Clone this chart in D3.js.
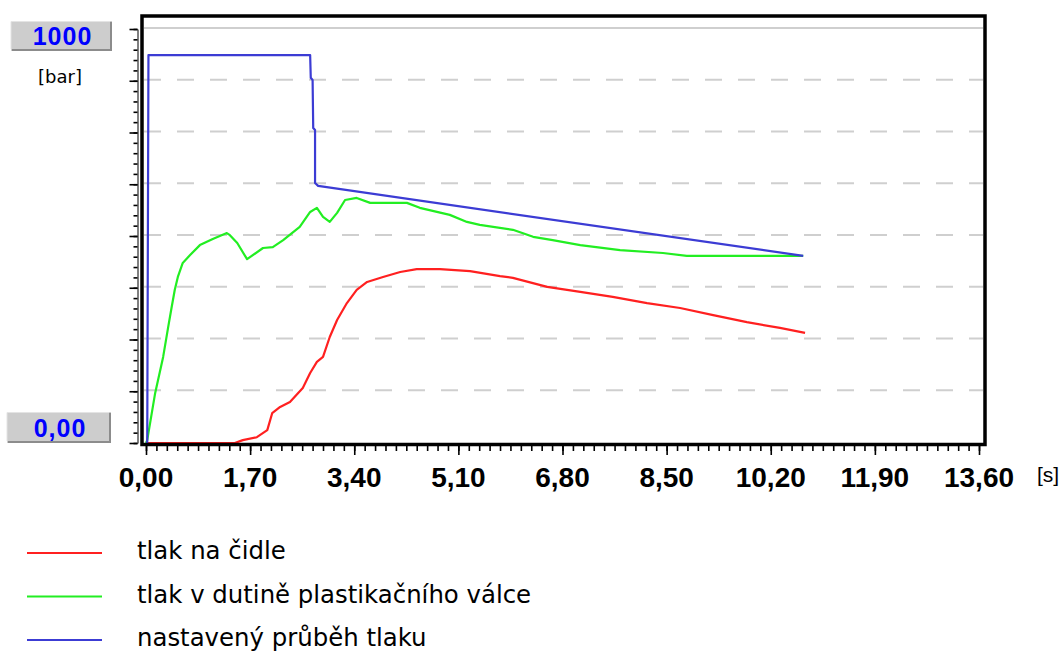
<!DOCTYPE html>
<html>
<head>
<meta charset="utf-8">
<script src="https://cdn.jsdelivr.net/npm/d3@7/dist/d3.min.js"></script>
<style>
body { margin: 0; background: #fff; }
svg { display: block; }
</style>
</head>
<body>
<script>
// time [s], pressure [bar]
var tlakNaCidle = [
  [0, 0], [1.45, 0], [1.58, 7], [1.81, 14], [1.98, 31], [2.06, 72], [2.19, 87],
  [2.35, 99], [2.56, 133], [2.68, 169], [2.79, 196], [2.89, 208], [3.00, 256],
  [3.12, 297], [3.28, 338], [3.44, 370], [3.61, 389], [3.87, 401], [4.15, 413],
  [4.42, 420], [4.80, 420], [5.29, 415], [5.78, 403], [5.99, 399], [6.55, 377],
  [7.09, 365], [7.62, 353], [8.18, 338], [8.72, 326], [9.26, 309], [9.81, 292],
  [10.35, 278], [10.76, 266]
];
var tlakVDutine = [
  [0, 0], [0.02, 7], [0.15, 121], [0.28, 208], [0.36, 278], [0.42, 329], [0.47, 370],
  [0.52, 401], [0.60, 435], [0.72, 454], [0.88, 478], [1.09, 493], [1.32, 507],
  [1.37, 502], [1.49, 483], [1.65, 444], [1.91, 471], [2.07, 473], [2.24, 490],
  [2.51, 522], [2.68, 558], [2.79, 568], [2.89, 546], [3.00, 534], [3.12, 556],
  [3.25, 587], [3.44, 592], [3.66, 580], [4.26, 580], [4.47, 568], [4.96, 551],
  [5.24, 534], [5.45, 527], [5.99, 515], [6.32, 498], [6.64, 490], [7.09, 478],
  [7.74, 466], [8.44, 459], [8.83, 452], [10.73, 452]
];
var nastavenyPrubeh = [
  [0, 0], [0.02, 0], [0.04, 937], [2.68, 937], [2.69, 882], [2.72, 877],
  [2.73, 761], [2.76, 756], [2.76, 628], [2.81, 621], [10.73, 452]
];
var xTicks = [0, 1.7, 3.4, 5.1, 6.8, 8.5, 10.2, 11.9, 13.6];
var xTickLabels = ["0,00", "1,70", "3,40", "5,10", "6,80", "8,50", "10,20", "11,90", "13,60"];
var yTicks = [0, 125, 250, 375, 500, 625, 750, 875, 1000];
var yTickLabels = ["0,00", "1000"];
var seriesNames = ["tlak na čidle", "tlak v dutině plastikačního válce", "nastavený průběh tlaku"];
var seriesColors = ["#ff2020", "#22ee22", "#3c3cd4"];

var width = 1064, height = 652;

var x = d3.scaleLinear().domain([0, 13.6]).range([146, 979]);
var y = d3.scaleLinear().domain([0, 1000]).range([443, 29]);

var svg = d3.select("body").append("svg")
  .attr("width", width)
  .attr("height", height);

svg.append("rect").attr("width", width).attr("height", height).attr("fill", "#fff");

// gridlines
svg.append("g").selectAll("line")
  .data(yTicks.filter(function(d) { return d > 0; }))
  .enter().append("line")
  .attr("x1", 144).attr("x2", 983)
  .attr("y1", function(d) { return y(d) - 1; })
  .attr("y2", function(d) { return y(d) - 1; })
  .attr("stroke", "#cfcfcf")
  .attr("stroke-width", 2)
  .attr("stroke-dasharray", function(d) { return d == 1000 ? null : "17,16"; });

// curves
svg.append("clipPath").attr("id", "clip")
  .append("rect").attr("x", 143).attr("y", 17).attr("width", 841).attr("height", 428);

var line = d3.line()
  .x(function(d) { return x(d[0]); })
  .y(function(d) { return y(d[1]); });

var curves = svg.append("g").attr("clip-path", "url(#clip)");
[tlakNaCidle, tlakVDutine, nastavenyPrubeh].forEach(function(s, i) {
  curves.append("path")
    .datum(s)
    .attr("d", line)
    .attr("fill", "none")
    .attr("stroke", seriesColors[i])
    .attr("stroke-width", 2.2)
    .attr("stroke-linejoin", "round");
});

// frame
svg.append("rect")
  .attr("x", 142).attr("y", 16)
  .attr("width", 843).attr("height", 428.5)
  .attr("fill", "none")
  .attr("stroke", "#000")
  .attr("stroke-width", 3.5);

// y axis (ticks only, labels in boxes)
var yMinor = d3.range(0, 1001, 25);
var yAxisMinor = d3.axisLeft(y).tickValues(yMinor).tickSize(4).tickSizeOuter(0).tickFormat("");
var yAxisMajor = d3.axisLeft(y).tickValues(yTicks).tickSize(8).tickSizeOuter(0).tickFormat("");
svg.append("g").attr("transform", "translate(137.5,0)").call(yAxisMinor)
  .call(function(g) { g.selectAll("line").attr("stroke-width", 1.6); });
svg.append("g").attr("transform", "translate(137.5,0)").call(yAxisMajor)
  .call(function(g) { g.select(".domain").remove(); g.selectAll("line").attr("stroke-width", 1.6); });

// x axis
var xMinor = d3.range(0, 136.1, 1.7).map(function(d) { return d / 10; });
var xAxisMinor = d3.axisBottom(x).tickValues(xMinor).tickSize(5).tickSizeOuter(0).tickFormat("");
var xAxisMajor = d3.axisBottom(x).tickValues(xTicks).tickSize(9).tickSizeOuter(0)
  .tickFormat(function(d, i) { return xTickLabels[i]; });
svg.append("g").attr("transform", "translate(0,446)").call(xAxisMinor)
  .call(function(g) { g.select(".domain").remove(); g.selectAll("line").attr("stroke-width", 1.6); });
svg.append("g").attr("transform", "translate(0,446)").call(xAxisMajor)
  .call(function(g) {
    g.select(".domain").remove();
    g.selectAll("line").attr("stroke-width", 1.6);
    g.selectAll("text")
      .attr("y", 41)
      .attr("dy", 0)
      .attr("dx", -0.5)
      .attr("fill", "#000")
      .style("font-family", "'Liberation Sans', Arial, sans-serif")
      .style("font-weight", "bold")
      .style("font-size", "28px");
  });

svg.append("text")
  .attr("x", 1048).attr("y", 482)
  .attr("text-anchor", "middle")
  .style("font-family", "'Liberation Sans', Arial, sans-serif")
  .style("font-size", "21px")
  .text("[s]");

// y label boxes
var boxes = [
  { label: yTickLabels[1], x: 11, y: 21, w: 101, h: 30 },
  { label: yTickLabels[0], x: 7, y: 412, w: 104, h: 31 }
];
var bx = svg.append("g").selectAll("g").data(boxes).enter().append("g");
bx.append("rect")
  .attr("x", function(d) { return d.x; }).attr("y", function(d) { return d.y; })
  .attr("width", function(d) { return d.w; }).attr("height", function(d) { return d.h; })
  .attr("fill", "#cdcdcd");
bx.append("path")
  .attr("d", function(d) { return "M" + (d.x + 1) + "," + (d.y + d.h - 1) + "H" + (d.x + d.w - 1) + "V" + (d.y + 1); })
  .attr("fill", "none").attr("stroke", "#8c8c8c").attr("stroke-width", 2);
bx.append("path")
  .attr("d", function(d) { return "M" + d.x + "," + (d.y + d.h - 2) + "V" + (d.y + 0.5) + "H" + (d.x + d.w - 2); })
  .attr("fill", "none").attr("stroke", "#e4e4e4").attr("stroke-width", 1);
bx.append("text")
  .attr("x", function(d) { return d.x + d.w / 2 + 1; })
  .attr("y", function(d) { return d.y + d.h / 2 + 9; })
  .attr("text-anchor", "middle")
  .attr("fill", "#0000ff")
  .style("font-family", "'Liberation Sans', Arial, sans-serif")
  .style("font-weight", "bold")
  .style("font-size", "25px")
  .style("letter-spacing", "1px")
  .text(function(d) { return d.label; });

svg.append("text")
  .attr("x", 60).attr("y", 83)
  .attr("text-anchor", "middle")
  .style("font-family", "'DejaVu Sans', sans-serif")
  .style("font-size", "18px")
  .text("[bar]");

// legend
var leg = svg.append("g").selectAll("g").data(seriesNames).enter().append("g")
  .attr("transform", function(d, i) { return "translate(0," + (559 + i * 43.5) + ")"; });
leg.append("line")
  .attr("x1", 27).attr("x2", 102)
  .attr("y1", -6).attr("y2", -6)
  .attr("stroke", function(d, i) { return seriesColors[i]; })
  .attr("stroke-width", 2.2);
leg.append("text")
  .attr("x", 137).attr("y", 0)
  .style("font-family", "'DejaVu Sans', sans-serif")
  .style("font-size", "24.4px")
  .text(function(d) { return d; });
</script>
</body>
</html>
